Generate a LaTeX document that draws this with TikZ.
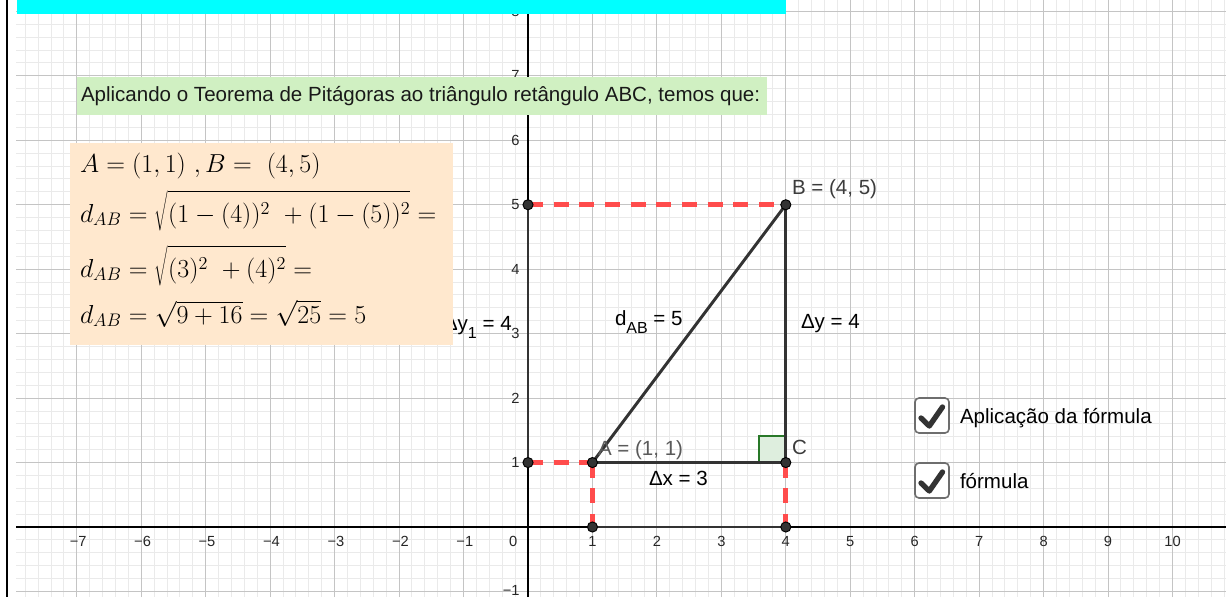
\RequirePackage{fix-cm}
\documentclass[tikz,border=0pt]{standalone}
\usepackage{fontspec}
\newfontfamily\gsans{Liberation Sans}
\definecolor{gridmaj}{RGB}{196,196,196}
\definecolor{gridmin}{RGB}{234,234,234}
\definecolor{segc}{RGB}{51,51,51}
\definecolor{dashred}{RGB}{255,76,76}
\definecolor{boxgreen}{RGB}{208,240,194}
\definecolor{boxorange}{RGB}{255,232,206}
\definecolor{anggreen}{RGB}{40,120,40}
\definecolor{angfill}{RGB}{222,238,222}
\definecolor{cyanbar}{RGB}{0,255,255}
\definecolor{labgray}{RGB}{90,90,90}
\definecolor{labdark}{RGB}{60,60,60}
\definecolor{cbborder}{RGB}{110,110,110}
\newcommand{\tallstrut}{\rule{0pt}{1.08em}}
\begin{document}
\begin{tikzpicture}[x=0.75pt,y=-0.75pt,
  every node/.style={inner sep=0pt, outer sep=0pt},
  lab/.style={font=\gsans\fontsize{15.4}{18}\selectfont, anchor=base west},
  axlab/.style={font=\gsans\fontsize{11}{13}\selectfont, text=black!85},
  mathline/.style={font=\fontsize{19.5}{22}\selectfont, anchor=base west},
  seg/.style={draw=segc, line width=2.2pt, line cap=round},
  reddash/.style={draw=dashred, line width=3.5pt, dash pattern=on 11.25pt off 8pt},
  ptdot/.style={fill=segc, draw=black, line width=0.7pt},
  cbox/.style={draw=cbborder, line width=1.2pt, rounded corners=3pt, fill=white},
  cmark/.style={draw=segc, line width=4pt, line cap=round, line join=round}
]
\useasboundingbox (0,0) rectangle (1226,597);
\fill[white] (0,0) rectangle (1226,597);
% left frame line
\draw[black, line width=1.1pt] (7,0) -- (7,597);
\begin{scope}[shift={(528,527)}, x=48.3375pt, y=48.3375pt]
  % grid
  \draw[gridmin, line width=0.75pt, step=0.2] (-7.944,-1.086) grid (10.83,8.177);
  \draw[gridmaj, line width=0.75pt, step=1] (-7.944,-1.086) grid (10.83,8.177);
  % axes
  \draw[black, line width=1.1pt] (-7.944,0) -- (10.83,0);
  \draw[black, line width=1.1pt] (0,-1.086) -- (0,8.177);
  % axis labels
  \foreach \i/\t in {-7/7,-6/6,-5/5,-4/4,-3/3,-2/2,-1/1}
    \node[axlab, anchor=base] (xm\t) at (\i+0.02,-0.31) {−\t};
  \foreach \i in {1,...,10}
    \node[axlab, anchor=base] (xp\i) at (\i,-0.31) {\i};
  \node[axlab, anchor=base] (x0) at (-0.23,-0.31) {0};
  \foreach \j in {1,...,8}
    \node[axlab, anchor=east] (yp\j) at (-0.13,\j) {\j};
  \node[axlab, anchor=east] (ym1) at (-0.13,-0.985) {−1};
  % points
  \coordinate (O5) at (0,5);
  \coordinate (O1) at (0,1);
  \coordinate (A) at (1,1);
  \coordinate (C) at (4,1);
  \coordinate (B) at (4,5);
  \coordinate (X1) at (1,0);
  \coordinate (X4) at (4,0);
  % right angle
  \filldraw[fill=angfill, draw=anggreen, line width=1.5pt] (C) rectangle ++(-0.416,0.416);
  % black segments
  \draw[seg] (O1) -- (O5);
  \draw[seg] (X1) -- (X4);
  \draw[seg] (A) -- (B);
  \draw[seg] (A) -- (C);
  \draw[seg] (C) -- (B);
  % red dashed
  \draw[reddash] (O5) -- (B);
  \draw[reddash] (O1) -- (A);
  \draw[reddash] (A) -- (X1);
  \draw[reddash] (C) -- (X4);
  % dots
  \foreach \p in {O5,O1,A,C,B,X1,X4}
    \filldraw[ptdot] (\p) circle (3.8pt);
\end{scope}
% labels
\node[lab] (lDy1) at (444,330) {Δy\lower6pt\hbox{\fontsize{12}{14}\selectfont 1} = 4};
\node[lab] (ldAB) at (615,325) {d\lower6pt\hbox{\fontsize{12}{14}\selectfont AB} = 5};
\node[lab] (lDy) at (801,328) {Δy = 4};
\node[lab, text=labgray] (lA) at (598,455) {A = (1, 1)};
\node[lab, text=labdark] (lC) at (792,454) {C};
\node[lab] (lDx) at (649,485) {Δx = 3};
\node[lab, text=labdark] (lB) at (792,194) {B = (4, 5)};
% boxes
\fill[cyanbar] (17,0) rectangle (786,14);
\fill[boxgreen] (77,77) rectangle (767,115);
\node[lab, text=black!90] (title) at (81,101) {Aplicando o Teorema de Pitágoras ao triângulo retângulo ABC, temos que:};
\fill[boxorange] (70,143) rectangle (453,345);
\node[mathline] (m1) at (80,172) {$A=(1,1)~,B=~(4,5)$};
\node[mathline] (m2) at (80,222) {$d_{AB}=\sqrt{\tallstrut(1-(4))^2~+(1-(5))^2}=$};
\node[mathline] (m3) at (80,277) {$d_{AB}=\sqrt{\tallstrut(3)^2~+(4)^2}=$};
\node[mathline] (m4) at (80,323) {$d_{AB}=\sqrt{9+16}=\sqrt{25}=5$};
% checkboxes
\draw[cbox] (915,398) rectangle (949,433);
\draw[cmark] (921,418) -- (929.3,426) -- (942.5,407);
\node[lab] (t1) at (960,423) {Aplicação da fórmula};
\draw[cbox] (915,463) rectangle (949,498);
\draw[cmark] (921,483) -- (929.3,491) -- (942.5,472);
\node[lab] (t2) at (960,488) {fórmula};
\end{tikzpicture}
\end{document}
